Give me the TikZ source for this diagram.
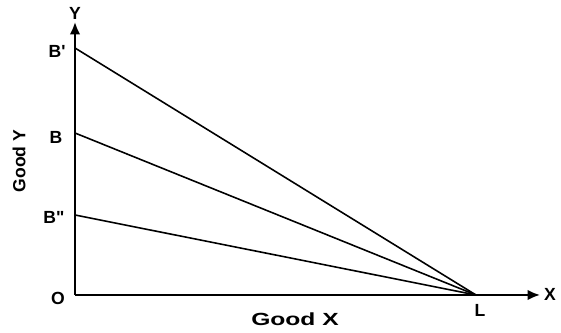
\documentclass[tikz,border=0pt]{standalone}
\usepackage{fontspec}
\setmainfont{Liberation Sans}
\usetikzlibrary{arrows.meta}
\tikzset{
  axis/.style={line width=1.2pt, -{Latex[length=7pt,width=6pt]}},
  budget/.style={line width=0.9pt},
  lbl/.style={font=\bfseries\normalsize, inner sep=1pt}
}
\begin{document}
\begin{tikzpicture}[x=0.02cm,y=-0.02cm]
            \useasboundingbox (0,0) rectangle (561,333);
            \coordinate (O) at (75,295);
            \coordinate (Ytop) at (75,22);
            \coordinate (Xend) at (540,295);
            \coordinate (L) at (476,295);
            \coordinate (Bp) at (75,48);
            \coordinate (B) at (75,133);
            \coordinate (Bpp) at (75,215);
            \draw[axis] (O) -- (Ytop);
            \draw[axis] (O) -- (Xend);
            \foreach \b in {Bp, B, Bpp} {
                \draw[budget] (\b) -- (L);
            }
            \node[lbl] (ylab) at (75,13) {Y};
            \node[lbl] (xlab) at (550,294) {X};
            \node[lbl] (olab) at (58,298) {O};
            \node[lbl] (llab) at (480,310) {L};
            \node[lbl] (bplab) at (57,51) {B\textquotesingle};
            \node[lbl] (blab) at (56,137) {B};
            \node[lbl] (bpplab) at (54,217) {B\textquotedbl};
            \node[lbl, xscale=1.4] (gx) at (295,319) {Good X};
            \node[lbl, rotate=90] (gy) at (19,161) {Good Y};
        \end{tikzpicture}
\end{document}
